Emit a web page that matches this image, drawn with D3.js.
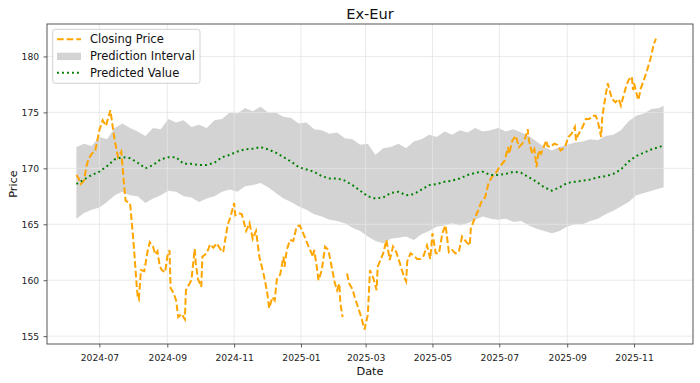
<!DOCTYPE html>
<html><head><meta charset="utf-8">
<script src="https://cdn.jsdelivr.net/npm/d3@7"></script>
<style>body{margin:0;background:#fff}svg{display:block;font-family:"DejaVu Sans",sans-serif}</style>
</head><body><svg id="c" width="700" height="383"></svg>
<script>
const title = "Ex-Eur";
const xLabel = "Date";
const yLabel = "Price";
const legendLabels = ["Closing Price", "Prediction Interval", "Predicted Value"];
const yTicks = [155, 160, 165, 170, 175, 180];
const xTickLabels = ["2024-07","2024-09","2024-11","2025-01","2025-03","2025-05","2025-07","2025-09","2025-11"];

const closeDates = ["2024-06-10","2024-06-12","2024-06-14","2024-06-17","2024-06-19","2024-06-21","2024-06-24","2024-06-27","2024-07-01","2024-07-04","2024-07-07","2024-07-11","2024-07-15","2024-07-18","2024-07-21","2024-07-24","2024-07-25","2024-07-29","2024-08-01","2024-08-04","2024-08-05","2024-08-06","2024-08-08","2024-08-11","2024-08-14","2024-08-16","2024-08-19","2024-08-21","2024-08-23","2024-08-25","2024-08-27","2024-08-30","2024-09-01","2024-09-03","2024-09-04","2024-09-07","2024-09-09","2024-09-11","2024-09-14","2024-09-17","2024-09-18","2024-09-23","2024-09-26","2024-09-27","2024-09-29","2024-10-02","2024-10-03","2024-10-07","2024-10-10","2024-10-13","2024-10-16","2024-10-20","2024-10-22","2024-10-26","2024-10-29","2024-11-01","2024-11-02","2024-11-05","2024-11-08","2024-11-12","2024-11-15","2024-11-18","2024-11-21","2024-11-24","2024-11-28","2024-12-01","2024-12-03","2024-12-06","2024-12-08","2024-12-10","2024-12-13","2024-12-16","2024-12-17","2024-12-19","2024-12-22","2024-12-25","2024-12-28","2024-12-31","2025-01-03","2025-01-08","2025-01-12","2025-01-13","2025-01-15","2025-01-17","2025-01-20","2025-01-23","2025-01-26","2025-01-29","2025-02-01","2025-02-03","2025-02-05","2025-02-06","2025-02-08","2025-02-10","2025-02-12","2025-02-14","2025-02-17","2025-02-19","2025-02-22","2025-02-25","2025-02-28","2025-03-03","2025-03-05","2025-03-08","2025-03-11","2025-03-12","2025-03-17","2025-03-20","2025-03-23","2025-03-26","2025-03-29","2025-04-01","2025-04-05","2025-04-07","2025-04-08","2025-04-11","2025-04-14","2025-04-17","2025-04-20","2025-04-23","2025-04-26","2025-04-29","2025-05-01","2025-05-04","2025-05-07","2025-05-10","2025-05-13","2025-05-16","2025-05-19","2025-05-22","2025-05-25","2025-05-28","2025-06-01","2025-06-04","2025-06-05","2025-06-08","2025-06-12","2025-06-15","2025-06-18","2025-06-21","2025-06-24","2025-06-28","2025-07-01","2025-07-06","2025-07-09","2025-07-10","2025-07-13","2025-07-16","2025-07-19","2025-07-22","2025-07-25","2025-07-27","2025-07-28","2025-07-31","2025-08-02","2025-08-04","2025-08-06","2025-08-08","2025-08-13","2025-08-14","2025-08-17","2025-08-20","2025-08-23","2025-08-26","2025-08-30","2025-09-02","2025-09-05","2025-09-08","2025-09-09","2025-09-11","2025-09-15","2025-09-18","2025-09-21","2025-09-24","2025-09-27","2025-09-29","2025-09-30","2025-10-02","2025-10-03","2025-10-06","2025-10-08","2025-10-11","2025-10-12","2025-10-15","2025-10-18","2025-10-20","2025-10-23","2025-10-25","2025-10-27","2025-10-30","2025-10-31","2025-11-01","2025-11-04","2025-11-05","2025-11-07","2025-11-10","2025-11-13","2025-11-16","2025-11-19","2025-11-21"];
const closeValues = [169.4,169.1,168.6,168.9,170.1,170.8,171.3,171.5,173.4,174.3,173.8,175.2,172.5,171.0,171.5,168.0,167.1,166.9,163.6,159.6,158.5,158.3,160.9,160.8,162.6,163.4,163.0,162.3,162.6,161.3,160.9,160.7,162.1,162.7,159.3,158.8,158.2,156.7,157.0,156.5,159.1,160.0,162.8,161.5,160.1,159.4,162.1,162.4,163.2,162.9,163.3,162.7,162.5,164.9,165.8,166.9,165.8,166.0,165.9,164.4,165.1,163.7,164.4,162.1,160.5,159.0,157.5,158.5,158.2,160.1,160.5,162.1,161.2,162.7,163.6,163.5,164.8,164.9,164.2,163.0,162.1,162.7,161.5,160.0,160.9,163.0,162.7,161.2,159.7,159.1,159.7,157.9,156.7,null,160.6,159.7,159.2,158.5,157.6,156.7,155.6,156.9,160.9,160.2,159.1,161.2,162.4,163.6,161.8,163.0,162.5,161.6,160.3,159.9,161.7,162.4,162.2,161.9,161.9,162.2,163.1,161.9,164.2,162.4,162.4,164.2,164.9,162.5,162.7,162.4,162.5,163.9,163.4,163.1,164.6,165.4,166.3,167.1,167.4,168.6,169.2,169.6,170.1,170.7,171.9,171.3,172.5,172.9,171.9,172.2,172.8,173.5,172.5,171.3,171.7,170.1,171.6,171.3,172.5,172.0,171.9,172.2,172.1,171.6,171.9,172.8,173.1,173.7,172.5,173.0,173.7,174.4,174.4,174.7,174.7,174.2,173.7,172.8,174.6,176.5,177.6,176.5,176.2,175.9,176.2,175.6,176.7,177.4,177.9,178.2,177.0,177.6,176.4,176.1,177.1,177.9,178.8,179.8,181.1,181.6];

// prediction series: weekly from 2024-06-10, last point 2025-11-28
const bandStart = "2024-06-10";
const bandEnd = "2025-11-28";
const predicted = [168.6,169.0,169.4,169.7,170.2,170.8,171.0,170.9,170.5,170.0,170.3,170.8,171.0,171.0,170.4,170.4,170.3,170.3,170.5,171.0,171.2,171.5,171.7,171.75,171.9,171.7,171.4,171.0,170.6,170.1,169.9,169.7,169.3,169.1,169.1,168.9,168.5,168.0,167.5,167.3,167.4,167.8,167.9,167.6,167.7,168.1,168.5,168.6,168.8,168.9,169.1,169.4,169.6,169.7,169.4,169.4,169.5,169.7,169.6,169.2,168.8,168.3,168.0,168.3,168.7,168.8,168.9,169.0,169.2,169.3,169.5,169.9,170.6,171.1,171.4,171.7,171.9,172.05];
const upper = [171.9,172.2,172.0,172.8,172.6,173.6,174.0,173.6,173.3,172.9,173.6,173.5,174.4,174.1,174.3,173.7,173.9,173.6,174.3,174.4,175.0,174.9,175.4,175.1,175.5,175.0,175.0,174.6,174.5,174.0,174.1,173.5,173.4,173.1,173.2,172.7,172.6,172.1,172.2,171.2,171.8,171.9,172.2,171.8,172.4,172.6,173.0,172.8,173.3,173.0,173.4,173.2,173.6,173.3,173.4,173.6,173.3,173.5,173.2,172.9,172.4,171.9,171.6,171.9,172.1,172.3,172.4,172.6,172.5,172.9,173.0,173.4,174.2,174.7,174.9,175.3,175.4,175.6];
const lower = [165.5,166.0,166.3,166.5,167.0,167.6,167.9,167.6,167.5,166.9,167.3,167.6,168.0,167.9,167.5,167.4,167.0,167.3,167.5,167.9,168.1,167.9,168.4,168.5,168.7,168.3,167.8,167.3,167.0,166.6,166.3,165.9,165.7,165.4,165.3,165.1,164.7,164.4,163.9,163.5,163.3,163.7,163.8,163.9,163.6,164.1,164.4,164.8,164.9,165.1,164.9,165.1,165.4,165.7,165.5,165.4,165.5,165.2,165.3,164.9,164.6,164.4,164.2,164.4,164.8,165.0,165.0,165.3,165.5,165.9,166.2,166.6,167.0,167.6,167.8,168.0,168.2,168.3];

const parse = d3.utcParse("%Y-%m-%d");
const close = closeDates.map((d, i) => ({date: parse(d), v: closeValues[i]}));
const s0 = parse(bandStart);
const bandDates = predicted.map((_, i) => i === predicted.length - 1 ? parse(bandEnd) : d3.utcDay.offset(s0, 7 * i));
const band = bandDates.map((d, i) => ({date: d, p: predicted[i], hi: upper[i], lo: lower[i]}));

const M = {l: 47, t: 24, r: 693, b: 344};
const svg = d3.select("#c");

const allDates = close.map(d => d.date).concat(bandDates);
const [dMin, dMax] = d3.extent(allDates);
const dPad = (dMax - dMin) * 0.05;
const allVals = closeValues.filter(v => v != null).concat(upper, lower);
const [vMin, vMax] = d3.extent(allVals);
const vPad = (vMax - vMin) * 0.05;

const x = d3.scaleUtc().domain([new Date(+dMin - dPad), new Date(+dMax + dPad)]).range([M.l, M.r]);
const y = d3.scaleLinear().domain([vMin - vPad, vMax + vPad]).range([M.b, M.t]);
const xTicks = xTickLabels.map(s => parse(s + "-01"));

// band
svg.append("path").datum(band)
  .attr("d", d3.area().x(d => x(d.date)).y0(d => y(d.lo)).y1(d => y(d.hi)))
  .attr("fill", "#d3d3d3");

// grid
const g = svg.append("g");
g.selectAll(".gx").data(xTicks).join("line")
  .attr("x1", d => x(d)).attr("x2", d => x(d)).attr("y1", M.t).attr("y2", M.b)
  .attr("stroke", "#e4e4e4").attr("stroke-width", 0.8);
g.selectAll(".gy").data(yTicks).join("line")
  .attr("y1", d => y(d)).attr("y2", d => y(d)).attr("x1", M.l).attr("x2", M.r)
  .attr("stroke", "#e4e4e4").attr("stroke-width", 0.8);

// closing price
svg.append("path").datum(close)
  .attr("d", d3.line().defined(d => d.v != null).x(d => x(d.date)).y(d => y(d.v)))
  .attr("fill", "none").attr("stroke", "#FFA500").attr("stroke-width", 2)
  .attr("stroke-dasharray", "6.7,2.9");

// predicted
svg.append("path").datum(band)
  .attr("d", d3.line().x(d => x(d.date)).y(d => y(d.p)))
  .attr("fill", "none").attr("stroke", "#008000").attr("stroke-width", 2)
  .attr("stroke-dasharray", "1.9,3.1");

// axes
const xAxis = svg.append("g").attr("transform", `translate(0,${M.b})`)
  .call(d3.axisBottom(x).tickValues(xTicks).tickFormat(d3.utcFormat("%Y-%m")).tickSize(3.5).tickSizeOuter(0));
const yAxis = svg.append("g").attr("transform", `translate(${M.l},0)`)
  .call(d3.axisLeft(y).tickValues(yTicks).tickFormat(d3.format("d")).tickSize(3.5).tickSizeOuter(0));
[xAxis, yAxis].forEach(a => {
  a.select(".domain").remove();
  a.selectAll("text").attr("font-size", 9.2).attr("fill", "#222").attr("font-family", "DejaVu Sans");
  a.selectAll("line").attr("stroke", "#333").attr("stroke-width", 0.8);
});
xAxis.selectAll("text").attr("dy", "1.15em");
yAxis.selectAll("text").attr("dx", "-0.15em");

svg.append("rect").attr("x", M.l).attr("y", M.t).attr("width", M.r - M.l).attr("height", M.b - M.t)
  .attr("fill", "none").attr("stroke", "#444").attr("stroke-width", 0.9);

svg.append("text").attr("x", (M.l + M.r) / 2).attr("y", 19).attr("text-anchor", "middle")
  .attr("font-size", 14.6).attr("fill", "#111").text(title);
svg.append("text").attr("x", (M.l + M.r) / 2).attr("y", 375).attr("text-anchor", "middle")
  .attr("font-size", 11.3).attr("fill", "#111").text(xLabel);
svg.append("text").attr("transform", `translate(17,${(M.t + M.b) / 2}) rotate(-90)`).attr("text-anchor", "middle")
  .attr("font-size", 11.3).attr("fill", "#111").text(yLabel);

// legend
const lg = svg.append("g");
lg.append("rect").attr("x", 52.7).attr("y", 29.3).attr("width", 147.3).attr("height", 54)
  .attr("rx", 2.5).attr("fill", "rgba(255,255,255,0.8)").attr("stroke", "#cccccc").attr("stroke-width", 0.9);
const rows = [39.3, 56.4, 72.7];
lg.append("line").attr("x1", 57).attr("x2", 81).attr("y1", rows[0]).attr("y2", rows[0])
  .attr("stroke", "#FFA500").attr("stroke-width", 2).attr("stroke-dasharray", "6.7,2.9");
lg.append("rect").attr("x", 57).attr("y", rows[1] - 3.7).attr("width", 24).attr("height", 7.4).attr("fill", "#d3d3d3");
lg.append("line").attr("x1", 57).attr("x2", 81).attr("y1", rows[2]).attr("y2", rows[2])
  .attr("stroke", "#008000").attr("stroke-width", 2).attr("stroke-dasharray", "1.9,3.1");
lg.selectAll(".lt").data(legendLabels).join("text")
  .attr("x", 90).attr("y", (d, i) => rows[i] + 4).attr("font-size", 11.5).attr("fill", "#111").text(d => d);
</script></body></html>
